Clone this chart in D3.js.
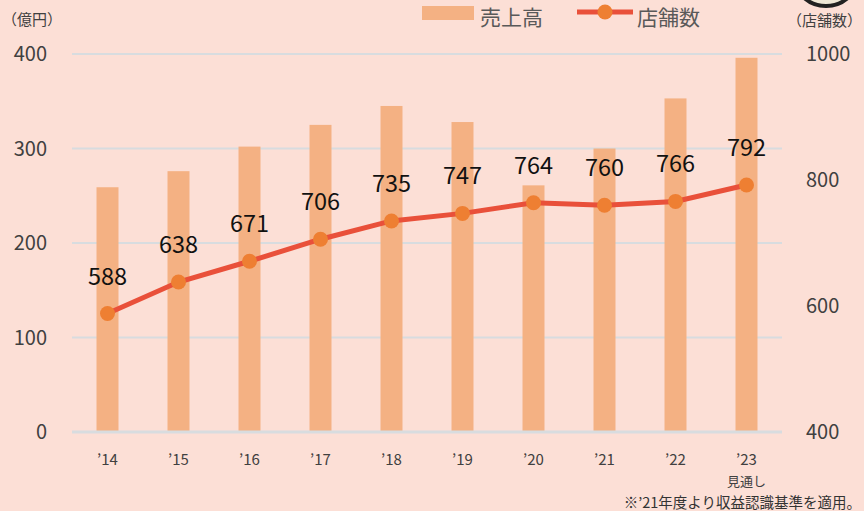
<!DOCTYPE html>
<html>
<head>
<meta charset="utf-8">
<script src="https://cdn.jsdelivr.net/npm/d3@7"></script>
<style>
  body { margin: 0; background: #FCDFD6; }
  svg { display: block; font-family: "Noto Sans CJK JP", "Noto Sans", sans-serif; }
</style>
</head>
<body>
<div id="chart"></div>
<script>
const years = ["’14", "’15", "’16", "’17", "’18", "’19", "’20", "’21", "’22", "’23"];
const sales = [259, 276, 302, 325, 345, 328, 261, 300, 353, 396];
const stores = [588, 638, 671, 706, 735, 747, 764, 760, 766, 792];
const leftTicks = [0, 100, 200, 300, 400];
const rightTicks = [400, 600, 800, 1000];

const width = 864, height = 511;
const margin = {top: 54, right: 82, bottom: 79, left: 72};

const svg = d3.select("#chart")
    .append("svg")
    .attr("width", width)
    .attr("height", height);

svg.append("rect")
    .attr("width", width).attr("height", height)
    .attr("fill", "#FCDFD6");

// x band
const x = d3.scaleBand()
    .domain(years)
    .range([margin.left, width - margin.right])
    .paddingInner(0)
    .paddingOuter(0);

const yL = d3.scaleLinear().domain([0, 400]).range([height - margin.bottom, margin.top]);
const yR = d3.scaleLinear().domain([400, 1000]).range([height - margin.bottom, margin.top]);

// gridlines
svg.append("g")
    .selectAll("line")
    .data(leftTicks)
    .join("line")
    .attr("x1", margin.left)
    .attr("x2", width - margin.right)
    .attr("y1", d => yL(d))
    .attr("y2", d => yL(d))
    .attr("stroke", "#D8DCDF")
    .attr("stroke-width", 2);

// bars
const barW = 22;
svg.append("g")
    .selectAll("rect")
    .data(sales)
    .join("rect")
    .attr("x", (d, i) => x(years[i]) + x.bandwidth() / 2 - barW / 2)
    .attr("y", d => yL(d))
    .attr("width", barW)
    .attr("height", d => yL(0) - yL(d))
    .attr("fill", "#F4B183");

// baseline over bars
svg.append("line")
    .attr("x1", margin.left).attr("x2", width - margin.right)
    .attr("y1", yL(0)).attr("y2", yL(0))
    .attr("stroke", "#D8DCDF").attr("stroke-width", 3);

// store line
const line = d3.line()
    .x((d, i) => x(years[i]) + x.bandwidth() / 2)
    .y(d => yR(d));

svg.append("path")
    .datum(stores)
    .attr("d", line)
    .attr("fill", "none")
    .attr("stroke", "#E9503A")
    .attr("stroke-width", 5);

svg.append("g")
    .selectAll("circle")
    .data(stores)
    .join("circle")
    .attr("cx", (d, i) => x(years[i]) + x.bandwidth() / 2)
    .attr("cy", d => yR(d))
    .attr("r", 7.5)
    .attr("fill", "#EE7F32");

svg.append("g")
    .selectAll("text")
    .data(stores)
    .join("text")
    .attr("x", (d, i) => x(years[i]) + x.bandwidth() / 2)
    .attr("y", d => yR(d) - 29)
    .attr("text-anchor", "middle")
    .attr("font-size", 23.5)
    .attr("fill", "#111")
    .text(d => d);

// left axis labels
svg.append("g")
    .selectAll("text")
    .data(leftTicks)
    .join("text")
    .attr("x", 47)
    .attr("y", d => yL(d) + 7)
    .attr("text-anchor", "end")
    .attr("font-size", 20)
    .attr("fill", "#404040")
    .text(d => d);

// right axis labels
svg.append("g")
    .selectAll("text")
    .data(rightTicks)
    .join("text")
    .attr("x", 806)
    .attr("y", d => yR(d) + 7)
    .attr("text-anchor", "start")
    .attr("font-size", 20)
    .attr("fill", "#404040")
    .text(d => d);

// x labels
svg.append("g")
    .selectAll("text")
    .data(years)
    .join("text")
    .attr("x", d => x(d) + x.bandwidth() / 2)
    .attr("y", 465)
    .attr("text-anchor", "middle")
    .attr("font-size", 15)
    .attr("fill", "#404040")
    .text(d => d);

svg.append("text")
    .attr("x", x(years[9]) + x.bandwidth() / 2)
    .attr("y", 486)
    .attr("text-anchor", "middle")
    .attr("font-size", 13)
    .attr("fill", "#404040")
    .text("見通し");

// unit labels
svg.append("text")
    .attr("x", 2).attr("y", 25)
    .attr("font-size", 15).attr("fill", "#404040")
    .text("（億円）");

svg.append("text")
    .attr("x", 862).attr("y", 26)
    .attr("text-anchor", "end")
    .attr("font-size", 15).attr("fill", "#404040")
    .text("（店舗数）");

// partial badge at top right
svg.append("ellipse")
    .attr("cx", 826).attr("cy", -22)
    .attr("rx", 31).attr("ry", 28)
    .attr("fill", "#EFE8D6")
    .attr("stroke", "#222").attr("stroke-width", 4);

// legend
svg.append("rect")
    .attr("x", 422).attr("y", 6)
    .attr("width", 52).attr("height", 14)
    .attr("fill", "#F4B183");
svg.append("text")
    .attr("x", 480).attr("y", 25)
    .attr("font-size", 21).attr("fill", "#595959")
    .text("売上高");

svg.append("line")
    .attr("x1", 577).attr("x2", 633)
    .attr("y1", 12).attr("y2", 12)
    .attr("stroke", "#E9503A").attr("stroke-width", 5);
svg.append("circle")
    .attr("cx", 605).attr("cy", 12).attr("r", 7.5)
    .attr("fill", "#EE7F32");
svg.append("text")
    .attr("x", 637).attr("y", 25)
    .attr("font-size", 21).attr("fill", "#595959")
    .text("店舗数");

// footnote
svg.append("text")
    .attr("x", 861).attr("y", 508)
    .attr("text-anchor", "end")
    .attr("font-size", 14.5)
    .attr("fill", "#333")
    .text("※’21年度より収益認識基準を適用。");
</script>
</body>
</html>
